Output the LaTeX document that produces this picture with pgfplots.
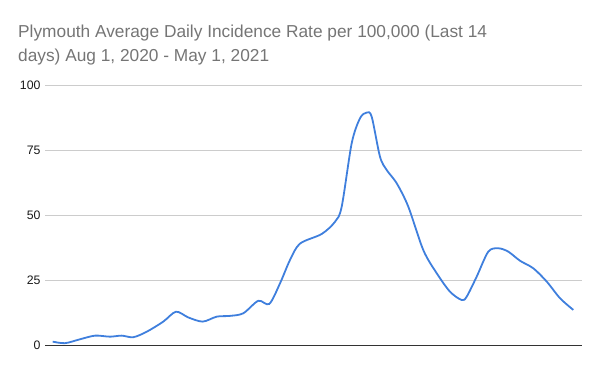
\documentclass[border=0pt]{standalone}
\usepackage{pgfplots}
\pgfplotsset{compat=1.18}
\usepackage{fontspec}
\setmainfont{Liberation Sans}
\definecolor{lineblue}{HTML}{3F7FDD}
\definecolor{titlegray}{HTML}{757575}
\definecolor{gridgray}{HTML}{CCCCCC}
\begin{document}
\begin{tikzpicture}[x=1pt,y=1pt]
\useasboundingbox (0,0) rectangle (600,371);
\node[anchor=base west, inner sep=0, text=titlegray, font=\fontsize{17.3}{21}\selectfont] at (18,333) {Plymouth Average Daily Incidence Rate per 100,000 (Last 14};
\node[anchor=base west, inner sep=0, text=titlegray, font=\fontsize{17.3}{21}\selectfont] at (18,309) {days) Aug 1, 2020 - May 1, 2021};
\begin{axis}[
  at={(45pt,26pt)}, anchor=south west,
  scale only axis, width=537pt, height=260pt,
  xmin=45, xmax=582, ymin=0, ymax=100,
  ytick={0,25,50,75,100}, xtick=\empty,
  axis lines*=left,
  y axis line style={draw=none},
  x axis line style={color=black!80, line width=0.8pt},
  major tick length=0pt,
  ymajorgrids, grid style={color=gridgray, line width=0.6pt},
  yticklabel style={font=\fontsize{12.3}{14}\selectfont, text=black!90, xshift=-1pt},
  /pgf/number format/assume math mode=true,
  clip=false,
]
\addplot[color=lineblue, line width=1.8pt, smooth, tension=0.5] coordinates {
(52.7,1.3) (65,0.7) (80,2.2) (95,3.6) (110,3.2) (121.7,3.6) (133.3,3.0)
(146.7,5.1) (163.3,9.0) (176,12.8) (188.3,10.6) (202.7,9.0) (216.7,10.9)
(230,11.2) (243.3,12.2) (258.3,17.0) (269.3,15.8) (280,23.7) (290,32.7)
(300,39.0) (321.7,42.7) (335,47.4) (341.7,53.2) (351.7,77.6) (360,87.2)
(366.7,89.4) (371.7,87.8) (380,72.4) (386.7,67.3) (396.7,62.2) (408.3,53.2)
(423.3,36.5) (436.7,27.6) (450,20.5) (461.7,17.3) (466.7,18.6) (476.7,26.3)
(488.3,35.9) (498.3,37.2) (508.3,35.9) (520,32.4) (533.3,29.5) (546.7,24.4)
(560,18.0) (573.3,13.5)
};
\end{axis}
\end{tikzpicture}
\end{document}
